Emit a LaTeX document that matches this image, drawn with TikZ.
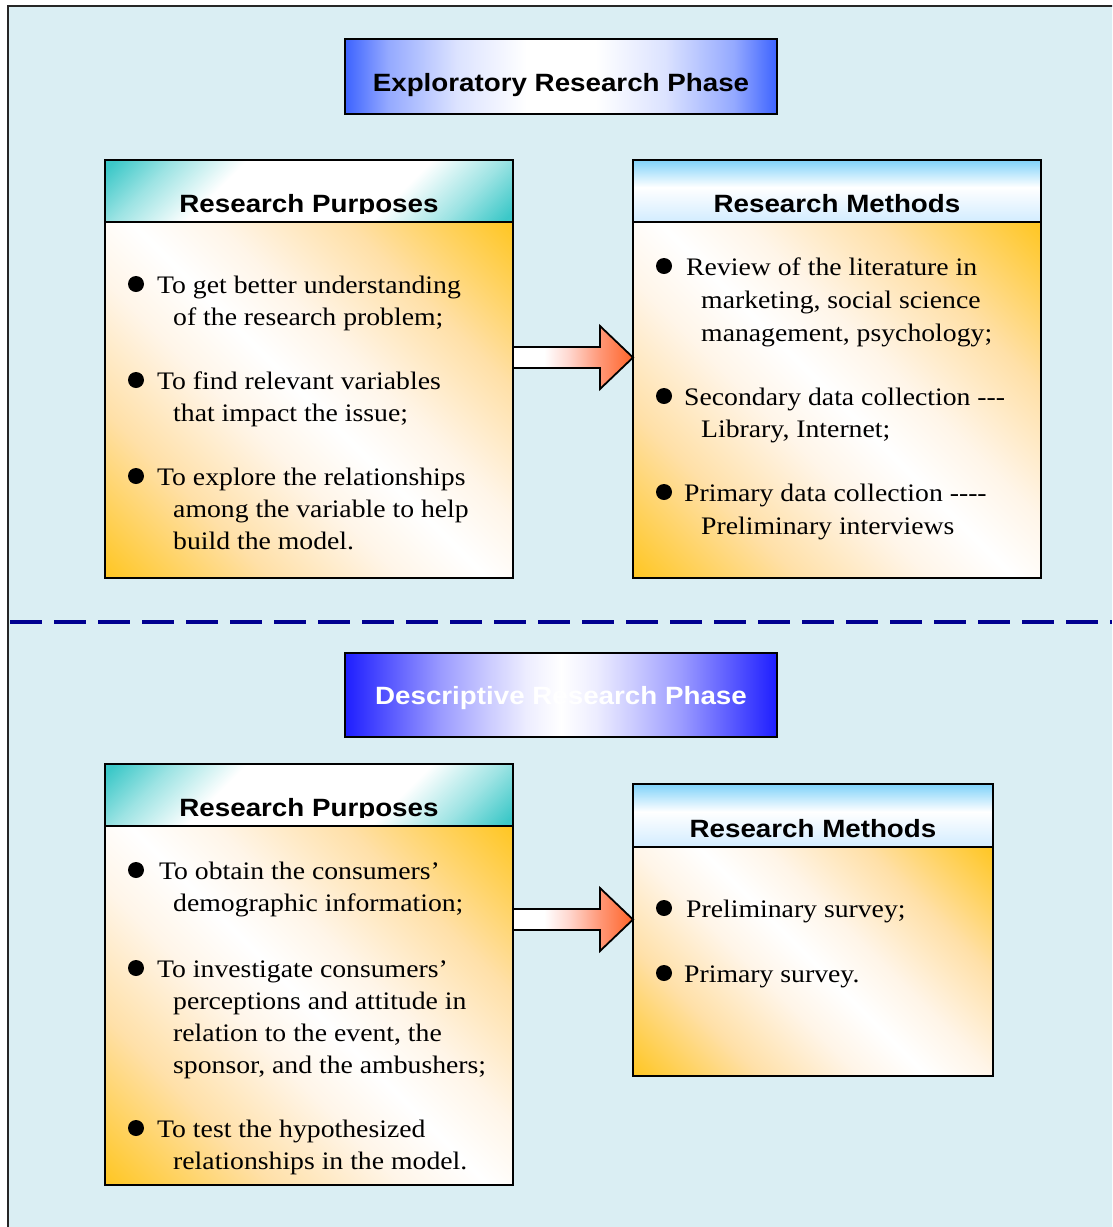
\documentclass[tikz,border=0pt]{standalone}
\usepackage{fontspec}
\setmainfont{Liberation Serif}[FakeStretch=1.1]
\newfontfamily\diagsans{Liberation Sans}[FakeStretch=1.11]
\usetikzlibrary{calc}

% colours
\definecolor{panelbg}{HTML}{DAEEF3}
\definecolor{phaseblueA}{HTML}{3D63FF}
\definecolor{phaseblueB}{HTML}{1E1EFF}
\definecolor{tealhead}{HTML}{3CC8C8}
\definecolor{skyhead}{HTML}{7FD2FA}
\definecolor{skypale}{HTML}{D2ECFF}
\definecolor{gold}{HTML}{FFC726}
\definecolor{goldmid}{HTML}{FFE0A8}
\definecolor{goldpale}{HTML}{FFF5E8}
\definecolor{arrowpink}{HTML}{FFD8D0}
\definecolor{arrowsalmon}{HTML}{FF9878}
\definecolor{arroworange}{HTML}{FF6428}
\definecolor{sepnavy}{HTML}{000090}

% shadings
\pgfdeclarehorizontalshading{phaseglowA}{100bp}{color(0bp)=(phaseblueA); color(25bp)=(phaseblueA);
  color(30bp)=(phaseblueA!55!white); color(38bp)=(phaseblueA!18!white); color(46bp)=(white);
  color(54bp)=(white); color(62bp)=(phaseblueA!18!white); color(70bp)=(phaseblueA!55!white);
  color(75bp)=(phaseblueA); color(100bp)=(phaseblueA)}
\pgfdeclarehorizontalshading{phaseglowB}{100bp}{color(0bp)=(phaseblueB); color(25bp)=(phaseblueB);
  color(29bp)=(phaseblueB!80!white); color(36bp)=(phaseblueB!45!white); color(42bp)=(phaseblueB!22!white);
  color(46bp)=(phaseblueB!8!white); color(50bp)=(white); color(54bp)=(phaseblueB!8!white);
  color(58bp)=(phaseblueB!22!white); color(64bp)=(phaseblueB!45!white); color(71bp)=(phaseblueB!80!white);
  color(75bp)=(phaseblueB); color(100bp)=(phaseblueB)}
\pgfdeclarehorizontalshading{bodyglow}{100bp}{color(0bp)=(gold); color(15bp)=(gold);
  color(30bp)=(goldmid); color(42bp)=(goldpale); color(50bp)=(white); color(58bp)=(goldpale);
  color(70bp)=(goldmid); color(85bp)=(gold); color(100bp)=(gold)}
\pgfdeclarehorizontalshading{tealglow}{100bp}{color(0bp)=(tealhead); color(16bp)=(tealhead);
  color(25bp)=(tealhead!50!white); color(36bp)=(white); color(64bp)=(white);
  color(75bp)=(tealhead!50!white); color(84bp)=(tealhead); color(100bp)=(tealhead)}
\pgfdeclareverticalshading{skyglow}{100bp}{color(0bp)=(skypale); color(25bp)=(skypale);
  color(53bp)=(white); color(75bp)=(skyhead); color(100bp)=(skyhead)}
\pgfdeclarehorizontalshading{arrowglow}{100bp}{color(0bp)=(white); color(38bp)=(white);
  color(48bp)=(arrowpink); color(61bp)=(arrowsalmon); color(75bp)=(arroworange); color(100bp)=(arroworange)}

\newcommand\diagbody{\fontsize{25.2pt}{32pt}\selectfont}
\newcommand\diaghead{\diagsans\bfseries\fontsize{25pt}{30pt}\selectfont}
\newcommand\hy{\hbox{-}}

\begin{document}
\begin{tikzpicture}[x=1pt,y=-1pt,
  panel/.style={fill=panelbg, draw=black!85, line width=1.8pt},
  separator/.style={draw=sepnavy, line width=4.5pt, dash pattern=on 32pt off 12pt},
  shadedbox/.style={rectangle, draw=black, line width=2pt, inner sep=0pt, outer sep=0pt, shade},
  phasebox/.style={shadedbox, anchor=north west, minimum width=432pt},
  bodybox/.style={shadedbox, shading=bodyglow, shading angle=45, anchor=north west},
  purposehead/.style={shadedbox, shading=tealglow, shading angle=-45, anchor=south west, minimum height=62pt},
  methodhead/.style={shadedbox, shading=skyglow, anchor=south west},
  phasetitle/.style={anchor=base, inner sep=0pt, font=\diaghead},
  headtitle/.style={anchor=base, inner sep=0pt, font=\diaghead},
  line/.style={anchor=base west, inner sep=0pt, font=\diagbody},
  dot/.style={circle, fill=black, inner sep=0pt, minimum size=16pt},
  blockarrow/.style={draw=black, line width=1.8pt, line join=miter, shade, shading=arrowglow}]

\useasboundingbox (0,0) rectangle (1112,1227);
\clip (0,0) rectangle (1112,1227);

% background panel and phase separator
\path[panel] (8,6) rectangle (1130,1245);
\coordinate (sepL) at (10,622);
\coordinate (sepR) at (1112,622);
\draw[separator] (sepL) -- (sepR);

% ---------------- exploratory phase ----------------
\node[phasebox, shading=phaseglowA, minimum height=75pt] (phaseA) at (345,39) {};
\node[phasetitle, text=black] (phaseAt) at (561,91) {Exploratory Research Phase};

\node[bodybox, minimum width=408pt, minimum height=356pt] (purpA) at (105,222) {};
\node[purposehead, minimum width=408pt] (purpAh) at (purpA.north west) {};
\begin{scope}
  \clip (purpAh.north west) rectangle ($(purpAh.south east)+(0,-9)$);
  \node[headtitle] (purpAt) at ($(purpAh.south)+(0,-10)$) {Research Purposes};
\end{scope}

\node[bodybox, minimum width=408pt, minimum height=356pt] (methA) at (633,222) {};
\node[methodhead, minimum width=408pt, minimum height=62pt] (methAh) at (methA.north west) {};
\begin{scope}
  \clip (methAh.north west) rectangle ($(methAh.south east)+(0,-9)$);
  \node[headtitle] (methAt) at ($(methAh.south)+(0,-10)$) {Research Methods};
\end{scope}

% purposes, exploratory
\node[dot] (dA1) at (136,284) {};
\node[line] (tA1a) at (157,293) {To get better understanding};
\node[line] (tA1b) at (173,325) {of the research problem;};
\node[dot] (dA2) at (136,380) {};
\node[line] (tA2a) at (157,389) {To find relevant variables};
\node[line] (tA2b) at (173,421) {that impact the issue;};
\node[dot] (dA3) at (136,476) {};
\node[line] (tA3a) at (157,485) {To explore the relationships};
\node[line] (tA3b) at (173,517) {among the variable to help};
\node[line] (tA3c) at (173,549) {build the model.};

% methods, exploratory
\node[dot] (mA1) at (664,266) {};
\node[line] (uA1a) at (686,275) {Review of the literature in};
\node[line] (uA1b) at (701,308) {marketing, social science};
\node[line] (uA1c) at (701,341) {management, psychology;};
\node[dot] (mA2) at (664,396) {};
\node[line] (uA2a) at (684,405) {Secondary data collection \hy\hy\hy};
\node[line] (uA2b) at (701,437) {Library, Internet;};
\node[dot] (mA3) at (664,492) {};
\node[line] (uA3a) at (684,501) {Primary data collection \hy\hy\hy\hy};
\node[line] (uA3b) at (701,534) {Preliminary interviews};

% ---------------- descriptive phase ----------------
\node[phasebox, shading=phaseglowB, minimum height=84pt] (phaseB) at (345,653) {};
\node[phasetitle, text=white] (phaseBt) at (561,704) {Descriptive Research Phase};

\node[bodybox, minimum width=408pt, minimum height=359pt] (purpB) at (105,826) {};
\node[purposehead, minimum width=408pt] (purpBh) at (purpB.north west) {};
\begin{scope}
  \clip (purpBh.north west) rectangle ($(purpBh.south east)+(0,-9)$);
  \node[headtitle] (purpBt) at ($(purpBh.south)+(0,-10)$) {Research Purposes};
\end{scope}

\node[bodybox, minimum width=360pt, minimum height=229pt] (methB) at (633,847) {};
\node[methodhead, minimum width=360pt, minimum height=63pt] (methBh) at (methB.north west) {};
\begin{scope}
  \clip (methBh.north west) rectangle ($(methBh.south east)+(0,-9)$);
  \node[headtitle] (methBt) at ($(methBh.south)+(0,-10)$) {Research Methods};
\end{scope}

% purposes, descriptive
\node[dot] (dB1) at (136,870) {};
\node[line] (tB1a) at (159,879) {To obtain the consumers’};
\node[line] (tB1b) at (173,911) {demographic information;};
\node[dot] (dB2) at (136,968) {};
\node[line] (tB2a) at (157,977) {To investigate consumers’};
\node[line] (tB2b) at (173,1009) {perceptions and attitude in};
\node[line] (tB2c) at (173,1041) {relation to the event, the};
\node[line] (tB2d) at (173,1073) {sponsor, and the ambushers;};
\node[dot] (dB3) at (136,1128) {};
\node[line] (tB3a) at (157,1137) {To test the hypothesized};
\node[line] (tB3b) at (173,1169) {relationships in the model.};

% methods, descriptive
\node[dot] (mB1) at (664,908) {};
\node[line] (uB1a) at (686,917) {Preliminary survey;};
\node[dot] (mB2) at (664,973) {};
\node[line] (uB2a) at (684,982) {Primary survey.};

% ---------------- block arrows between the boxes ----------------
\coordinate (arrAs) at (purpA.east |- 0,357.5);
\coordinate (arrAe) at (methA.west |- 0,357.5);
\path[blockarrow] ($(arrAs)+(0,-10.5)$) -- ($(arrAe)+(-33,-10.5)$) -- ($(arrAe)+(-33,-31.5)$)
  -- (arrAe) -- ($(arrAe)+(-33,31.5)$) -- ($(arrAe)+(-33,10.5)$) -- ($(arrAs)+(0,10.5)$) -- cycle;

\coordinate (arrBs) at (purpB.east |- 0,919.5);
\coordinate (arrBe) at (methB.west |- 0,919.5);
\path[blockarrow] ($(arrBs)+(0,-10.5)$) -- ($(arrBe)+(-33,-10.5)$) -- ($(arrBe)+(-33,-31.5)$)
  -- (arrBe) -- ($(arrBe)+(-33,31.5)$) -- ($(arrBe)+(-33,10.5)$) -- ($(arrBs)+(0,10.5)$) -- cycle;

\end{tikzpicture}
\end{document}
